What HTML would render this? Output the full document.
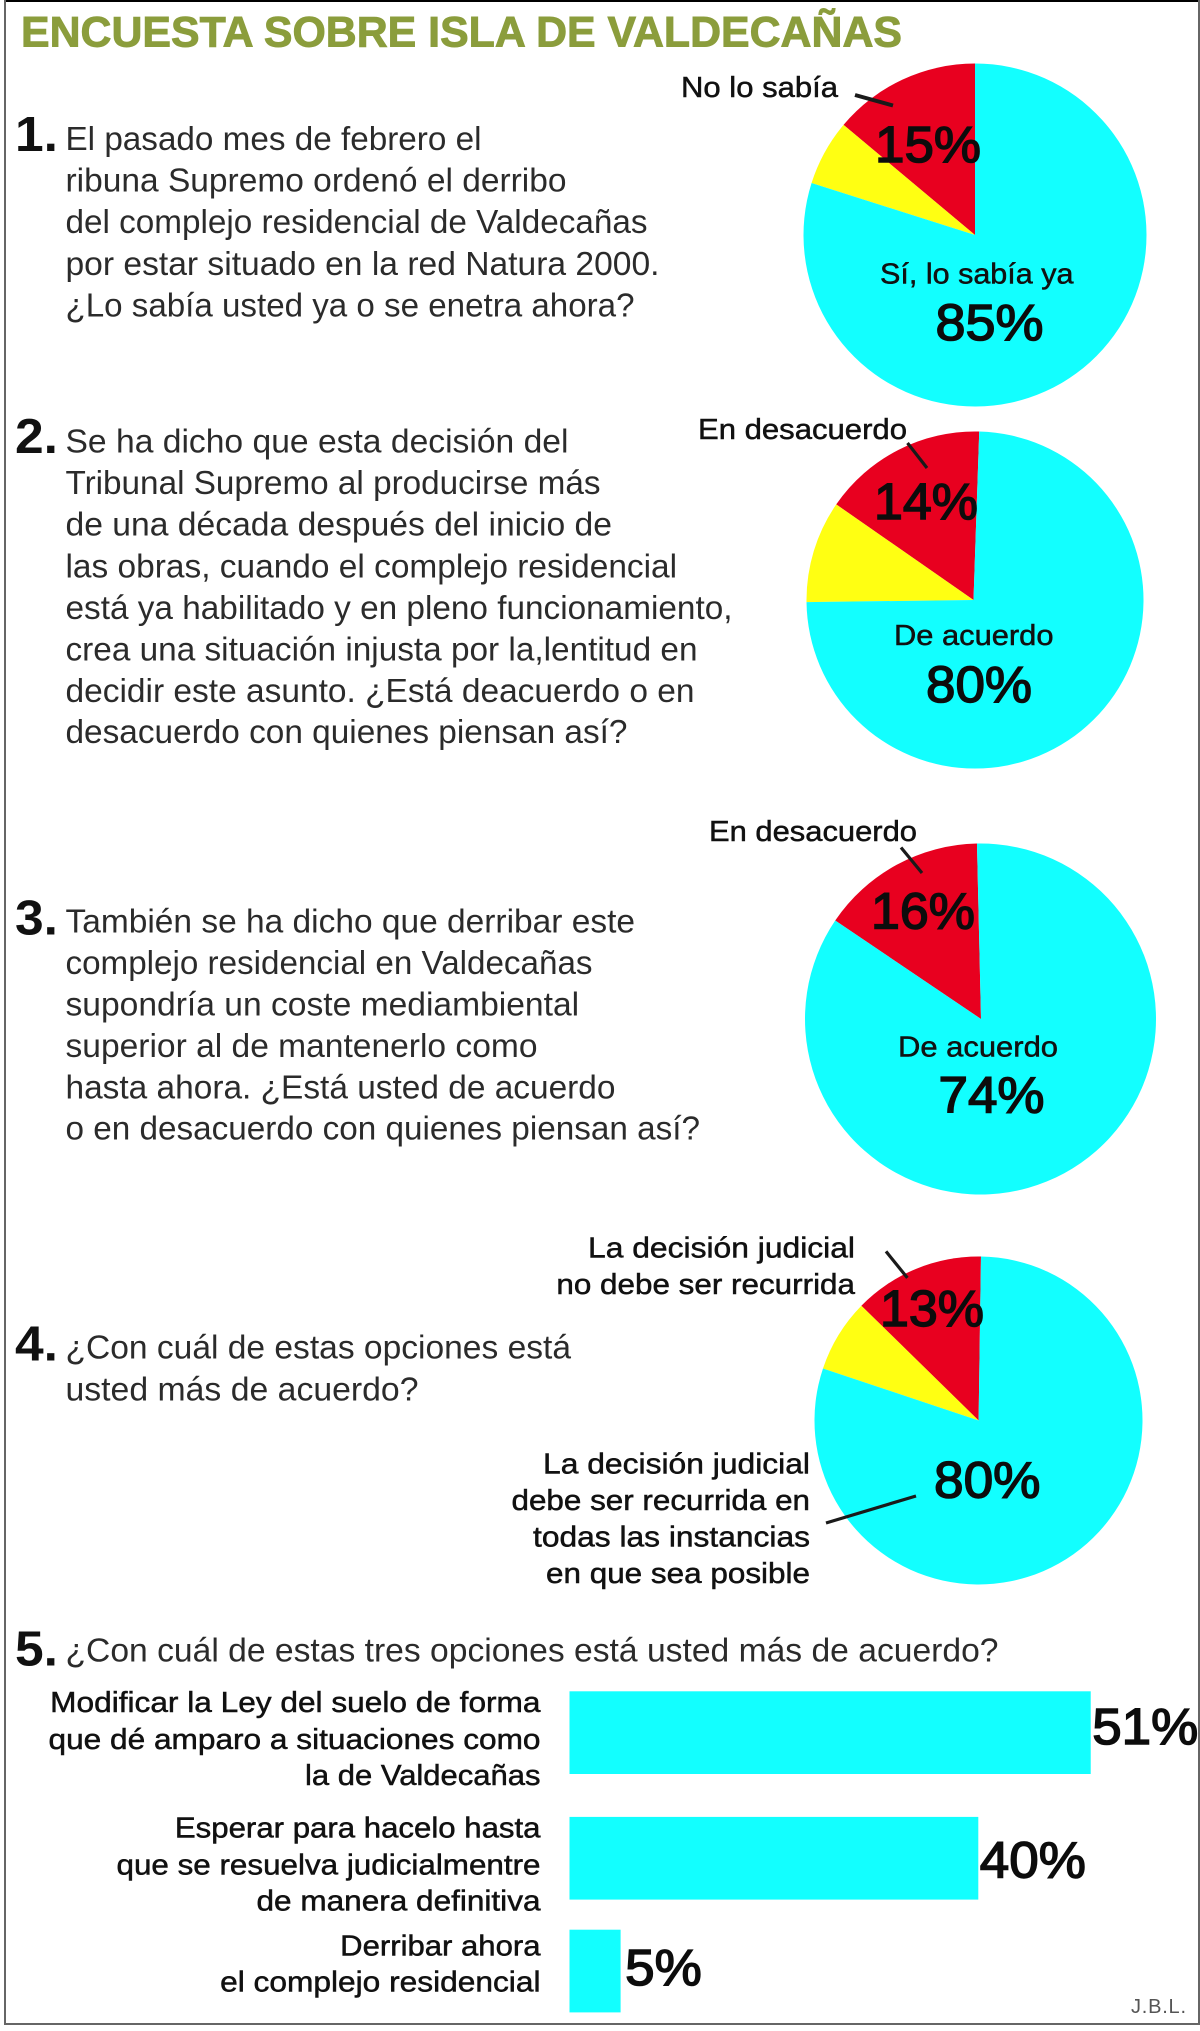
<!DOCTYPE html>
<html lang="es">
<head>
<meta charset="utf-8">
<title>Encuesta sobre Isla de Valdecañas</title>
<style>
html,body{margin:0;padding:0;background:#fff;}
svg{display:block;font-family:"Liberation Sans",Arial,sans-serif;}
.q{font-size:33px;fill:#2b2b2b;}
.n{font-size:49px;font-weight:bold;fill:#111;}
.l{font-size:29px;fill:#111;stroke:#111;stroke-width:.5px;}
.leader{stroke:#1a1a1a;fill:none;}
</style>
</head>
<body>
<svg id="chart" xmlns="http://www.w3.org/2000/svg" width="1200" height="2031" viewBox="0 0 1200 2031">
  <rect x="0" y="0" width="1200" height="2031" fill="#fff"/>
  <line x1="4" y1="1" x2="1200" y2="1" stroke="#000" stroke-width="2"/>
  <line x1="5" y1="0" x2="5" y2="2025" stroke="#666" stroke-width="2"/>
  <line x1="1199" y1="0" x2="1199" y2="2025" stroke="#666" stroke-width="2"/>
  <line x1="4" y1="2024" x2="1200" y2="2024" stroke="#666" stroke-width="2"/>

  <text x="21" y="46.5" font-size="43" font-weight="bold" fill="#8b9d3c" stroke="#8b9d3c" stroke-width=".9" textLength="881" lengthAdjust="spacingAndGlyphs">ENCUESTA SOBRE ISLA DE VALDECAÑAS</text>

  <g id="pies"></g>
  <g id="bars"></g>

  <g>
    <text class="n" x="15" y="151" textLength="43" lengthAdjust="spacingAndGlyphs">1.</text>
    <text class="q" x="65.5" y="150" textLength="416" lengthAdjust="spacingAndGlyphs">El pasado mes de febrero el</text>
    <text class="q" x="65.5" y="191.7" textLength="501" lengthAdjust="spacingAndGlyphs">ribuna Supremo ordenó el derribo</text>
    <text class="q" x="65.5" y="233" textLength="582" lengthAdjust="spacingAndGlyphs">del complejo residencial de Valdecañas</text>
    <text class="q" x="65.5" y="275" textLength="594" lengthAdjust="spacingAndGlyphs">por estar situado en la red Natura 2000.</text>
    <text class="q" x="65.5" y="316.7" textLength="569" lengthAdjust="spacingAndGlyphs">¿Lo sabía usted ya o se enetra ahora?</text>
  </g>

  <g>
    <text class="n" x="15" y="453" textLength="43" lengthAdjust="spacingAndGlyphs">2.</text>
    <text class="q" x="65.5" y="452.5" textLength="503" lengthAdjust="spacingAndGlyphs">Se ha dicho que esta decisión del</text>
    <text class="q" x="65.5" y="494.2" textLength="535" lengthAdjust="spacingAndGlyphs">Tribunal Supremo al producirse más</text>
    <text class="q" x="65.5" y="535.5" textLength="546.5" lengthAdjust="spacingAndGlyphs">de una década después del inicio de</text>
    <text class="q" x="65.5" y="577.4" textLength="611.6" lengthAdjust="spacingAndGlyphs">las obras, cuando el complejo residencial</text>
    <text class="q" x="65.5" y="618.8" textLength="667" lengthAdjust="spacingAndGlyphs">está ya habilitado y en pleno funcionamiento,</text>
    <text class="q" x="65.5" y="660.5" textLength="632" lengthAdjust="spacingAndGlyphs">crea una situación injusta por la,lentitud en</text>
    <text class="q" x="65.5" y="701.8" textLength="629" lengthAdjust="spacingAndGlyphs">decidir este asunto. ¿Está deacuerdo o en</text>
    <text class="q" x="65.5" y="743.2" textLength="562" lengthAdjust="spacingAndGlyphs">desacuerdo con quienes piensan así?</text>
  </g>

  <g>
    <text class="n" x="15" y="934.7" textLength="43" lengthAdjust="spacingAndGlyphs">3.</text>
    <text class="q" x="65.5" y="932.4" textLength="569.5" lengthAdjust="spacingAndGlyphs">También se ha dicho que derribar este</text>
    <text class="q" x="65.5" y="973.9" textLength="527" lengthAdjust="spacingAndGlyphs">complejo residencial en Valdecañas</text>
    <text class="q" x="65.5" y="1015.4" textLength="513.6" lengthAdjust="spacingAndGlyphs">supondría un coste mediambiental</text>
    <text class="q" x="65.5" y="1057.1" textLength="472" lengthAdjust="spacingAndGlyphs">superior al de mantenerlo como</text>
    <text class="q" x="65.5" y="1098.4" textLength="550" lengthAdjust="spacingAndGlyphs">hasta ahora. ¿Está usted de acuerdo</text>
    <text class="q" x="65.5" y="1139.4" textLength="634.5" lengthAdjust="spacingAndGlyphs">o en desacuerdo con quienes piensan así?</text>
  </g>

  <g>
    <text class="n" x="15" y="1360.6" textLength="43" lengthAdjust="spacingAndGlyphs">4.</text>
    <text class="q" x="65.5" y="1358.5" textLength="505.5" lengthAdjust="spacingAndGlyphs">¿Con cuál de estas opciones está</text>
    <text class="q" x="65.5" y="1400.4" textLength="353" lengthAdjust="spacingAndGlyphs">usted más de acuerdo?</text>
  </g>

  <g>
    <text class="n" x="15" y="1665.3" textLength="43" lengthAdjust="spacingAndGlyphs">5.</text>
    <text class="q" x="65.5" y="1661.5" textLength="933" lengthAdjust="spacingAndGlyphs">¿Con cuál de estas tres opciones está usted más de acuerdo?</text>
  </g>

  <g>
    <text class="l" x="681" y="97" textLength="157" lengthAdjust="spacingAndGlyphs">No lo sabía</text>
    <line class="leader" x1="855" y1="95" x2="893" y2="105.5" stroke-width="4"/>
    <text class="l" x="880" y="283.5" textLength="193.5" lengthAdjust="spacingAndGlyphs">Sí, lo sabía ya</text>
  </g>
  <g>
    <text class="l" x="698" y="439" textLength="209" lengthAdjust="spacingAndGlyphs">En desacuerdo</text>
    <line class="leader" x1="907.5" y1="443" x2="927" y2="468" stroke-width="3.2"/>
    <text class="l" x="894" y="645" textLength="159.5" lengthAdjust="spacingAndGlyphs">De acuerdo</text>
  </g>
  <g>
    <text class="l" x="709" y="841" textLength="208" lengthAdjust="spacingAndGlyphs">En desacuerdo</text>
    <line class="leader" x1="901" y1="847.5" x2="922" y2="873" stroke-width="3.2"/>
    <text class="l" x="898" y="1056.6" textLength="160" lengthAdjust="spacingAndGlyphs">De acuerdo</text>
  </g>
  <g>
    <text class="l" x="855" y="1257.3" text-anchor="end" textLength="267" lengthAdjust="spacingAndGlyphs">La decisión judicial</text>
    <text class="l" x="855" y="1293.9" text-anchor="end" textLength="298.6" lengthAdjust="spacingAndGlyphs">no debe ser recurrida</text>
    <line class="leader" x1="886" y1="1251.4" x2="907.4" y2="1277.9" stroke-width="3.2"/>
    <text class="l" x="810" y="1473.5" text-anchor="end" textLength="267" lengthAdjust="spacingAndGlyphs">La decisión judicial</text>
    <text class="l" x="810" y="1510" text-anchor="end" textLength="298.5" lengthAdjust="spacingAndGlyphs">debe ser recurrida en</text>
    <text class="l" x="810" y="1546.6" text-anchor="end" textLength="277" lengthAdjust="spacingAndGlyphs">todas las instancias</text>
    <text class="l" x="810" y="1583.2" text-anchor="end" textLength="264" lengthAdjust="spacingAndGlyphs">en que sea posible</text>
    <line class="leader" x1="826" y1="1523" x2="916" y2="1496" stroke-width="3.2"/>
  </g>

  <g>
    <text class="l" x="540.5" y="1712" text-anchor="end" textLength="490.3" lengthAdjust="spacingAndGlyphs">Modificar la Ley del suelo de forma</text>
    <text class="l" x="540.5" y="1749" text-anchor="end" textLength="492" lengthAdjust="spacingAndGlyphs">que dé amparo a situaciones como</text>
    <text class="l" x="540.5" y="1785" text-anchor="end" textLength="235.5" lengthAdjust="spacingAndGlyphs">la de Valdecañas</text>
    <text class="l" x="540.5" y="1837.7" text-anchor="end" textLength="365.6" lengthAdjust="spacingAndGlyphs">Esperar para hacelo hasta</text>
    <text class="l" x="540.5" y="1874.4" text-anchor="end" textLength="424" lengthAdjust="spacingAndGlyphs">que se resuelva judicialmentre</text>
    <text class="l" x="540.5" y="1910.4" text-anchor="end" textLength="284" lengthAdjust="spacingAndGlyphs">de manera definitiva</text>
    <text class="l" x="540.5" y="1955.3" text-anchor="end" textLength="200.3" lengthAdjust="spacingAndGlyphs">Derribar ahora</text>
    <text class="l" x="540.5" y="1991.3" text-anchor="end" textLength="320.4" lengthAdjust="spacingAndGlyphs">el complejo residencial</text>
  </g>

  <text x="1131" y="2013" font-size="20" fill="#555" textLength="55" lengthAdjust="spacing">J.B.L.</text>
</svg>

<script>
// Slice shares as drawn in the picture (percent of the circle, counter-clockwise from the pie's first edge)
const pie1Shares = [13.9, 6.2, 79.9];
const pie2Shares = [15.8, 9.8, 74.4];
const pie3Shares = [15.2, 0, 84.8];
const pie4Shares = [12.9, 7.2, 79.9];
const sliceColors = ['#e8001f', '#ffff12', '#12ffff'];
const sliceNames = ['red', 'yellow', 'cyan'];

// Printed values
const pie1Printed = ['15%', '85%'];
const pie2Printed = ['14%', '80%'];
const pie3Printed = ['16%', '74%'];
const pie4Printed = ['13%', '80%'];

// Bar chart
const barValues = [51, 40, 5];

const NS = 'http://www.w3.org/2000/svg';
const pieLayer = document.getElementById('pies');
const barLayer = document.getElementById('bars');

function angleOf(share) {
  return share / 100 * 2 * Math.PI;
}

// (ax, ay) is the hand-placed apex; (cx, cy, r) the circle; tilt rotates the first edge
function drawPie(id, shares, cx, cy, r, ax, ay, tilt) {
  let acc = tilt;
  shares.forEach(function (share, i) {
    if (share <= 0) return;
    const a0 = angleOf(acc);
    const a1 = angleOf(acc + share);
    acc += share;
    const x0 = cx - r * Math.sin(a0);
    const y0 = cy - r * Math.cos(a0);
    const x1 = cx - r * Math.sin(a1);
    const y1 = cy - r * Math.cos(a1);
    const large = share > 50 ? 1 : 0;
    const el = document.createElementNS(NS, 'path');
    el.setAttribute('d', 'M' + ax + ' ' + ay + 'L' + x0 + ' ' + y0 + 'A' + r + ' ' + r + ' 0 ' + large + ' 0 ' + x1 + ' ' + y1 + 'Z');
    el.setAttribute('fill', sliceColors[i]);
    
    
    pieLayer.appendChild(el);
  });
}

function drawValue(name, text, x, y, width) {
  const el = document.createElementNS(NS, 'text');
  el.textContent = text;
  el.setAttribute('x', x);
  el.setAttribute('y', y);
  el.setAttribute('font-size', '51');
  el.setAttribute('fill', '#0c0c0c');
  el.setAttribute('stroke', '#0c0c0c');
  el.setAttribute('stroke-width', '1.5');
  el.setAttribute('textLength', width);
  el.setAttribute('lengthAdjust', 'spacingAndGlyphs');
  
  
  document.getElementById('chart').appendChild(el);
}

drawPie(1, pie1Shares, 975, 235, 171.5, 975, 235, 0);
drawPie(2, pie2Shares, 975, 600, 168.5, 973.5, 600, -0.4);
drawPie(3, pie3Shares, 980.5, 1019, 175.5, 981, 1019, 0.32);
drawPie(4, pie4Shares, 978.5, 1420.5, 164, 978.6, 1420.5, -0.24);

drawValue('pie-1-minor-value', pie1Printed[0], 875, 162, 106);
drawValue('pie-1-major-value', pie1Printed[1], 935.5, 340, 108);
drawValue('pie-2-minor-value', pie2Printed[0], 874, 519, 104);
drawValue('pie-2-major-value', pie2Printed[1], 926, 702, 106);
drawValue('pie-3-minor-value', pie3Printed[0], 871, 928.6, 104);
drawValue('pie-3-major-value', pie3Printed[1], 938.5, 1112.5, 106);
drawValue('pie-4-minor-value', pie4Printed[0], 880, 1326, 104);
drawValue('pie-4-major-value', pie4Printed[1], 934, 1497.5, 106.5);

// Bar axis
const barX0 = 569.5;
const pxPerPercent = 10.22;
function xScale(v) {
  return barX0 + v * pxPerPercent;
}
const barTop = [1691.3, 1816.9, 1929.7];
const barBaseline = [1744.2, 1877.3, 1984.8];
const barHeight = 82.7;

barValues.forEach(function (v, i) {
  const rect = document.createElementNS(NS, 'rect');
  rect.setAttribute('x', barX0);
  rect.setAttribute('y', barTop[i]);
  rect.setAttribute('width', xScale(v) - barX0);
  rect.setAttribute('height', barHeight);
  rect.setAttribute('fill', '#12ffff');
  
  
  barLayer.appendChild(rect);
  drawValue('bar-' + (i + 1) + '-value', v + '%', xScale(v) + (v < 10 ? 4.5 : 1.5), barBaseline[i], v < 10 ? 76.6 : 106);
});
</script>
</body>
</html>
